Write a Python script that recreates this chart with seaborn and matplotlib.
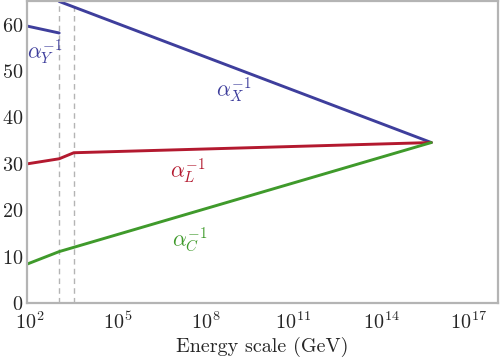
import numpy as np
import pandas as pd
import matplotlib.pyplot as plt
import seaborn as sns

# inverse gauge couplings vs energy scale (GeV)
scale_Y = [10**1.9, 1e3]
alpha_Y = [59.7, 58.2]
scale_X = [1e3, 10**15.72]
alpha_X = [65.0, 34.6]
scale_L = [10**1.9, 1e3, 10**3.5, 10**15.72]
alpha_L = [30.0, 31.1, 32.4, 34.6]
scale_C = [10**1.9, 1e3, 10**15.72]
alpha_C = [8.4, 11.1, 34.6]
thresholds = [1e3, 10**3.5]

blue = '#3e3e9c'
red = '#b3192f'
green = '#3f9a2b'
grey = '#b4b4b4'

sns.set_style('white')
plt.rcParams['font.family'] = ['cmr10', 'DejaVu Serif']
plt.rcParams['mathtext.fontset'] = 'cm'
plt.rcParams['axes.formatter.use_mathtext'] = True
plt.rcParams['font.size'] = 14.5

fig = plt.figure(figsize=(5, 3.6), dpi=100)
ax = fig.add_axes([0.054, 0.158, 0.942, 0.838])

for x, y, c in [(scale_Y, alpha_Y, blue), (scale_X, alpha_X, blue),
                (scale_L, alpha_L, red), (scale_C, alpha_C, green)]:
    sns.lineplot(x=x, y=y, color=c, lw=2.1, ax=ax, sort=False)

for t in thresholds:
    ax.axvline(t, color=grey, lw=1.0, ls=(0, (4, 3)), zorder=0)

ax.set_xscale('log')
ax.set_xlim(10**1.9, 1e18)
ax.set_ylim(0, 65)
ax.set_xticks([1e2, 1e5, 1e8, 1e11, 1e14, 1e17])
ax.minorticks_off()
ax.set_yticks(range(0, 70, 10))
ax.tick_params(direction='in', color=grey, length=5, width=1.0)
ax.tick_params(axis='x', pad=6)
ax.tick_params(axis='y', pad=3)
for s in ax.spines.values():
    s.set_color(grey)
    s.set_linewidth(1.6)

ax.set_xlabel('Energy scale (GeV)', labelpad=3)

ax.text(10**2.5, 54, r'$\alpha_Y^{-1}$', color=blue, fontsize=15.5, ha='center', va='center')
ax.text(10**8.95, 45.8, r'$\alpha_X^{-1}$', color=blue, fontsize=15.5, ha='center', va='center')
ax.text(10**7.4, 28.3, r'$\alpha_L^{-1}$', color=red, fontsize=15.5, ha='center', va='center')
ax.text(10**7.45, 13.6, r'$\alpha_C^{-1}$', color=green, fontsize=15.5, ha='center', va='center')

fig.savefig('out.png', dpi=100)
